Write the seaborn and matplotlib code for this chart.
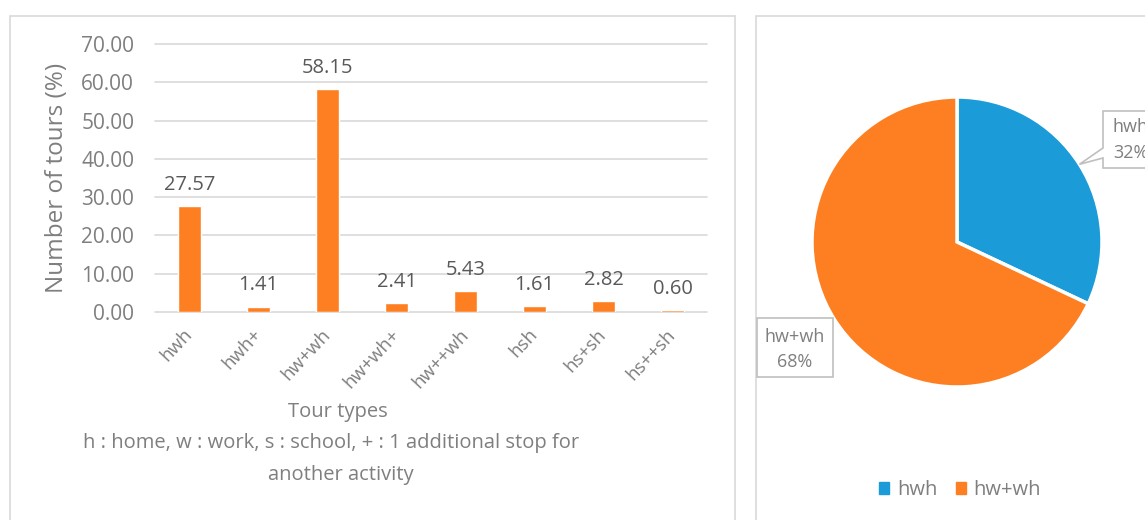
import matplotlib
matplotlib.use('Agg')
import matplotlib.pyplot as plt
import seaborn as sns
import numpy as np
from matplotlib.patches import Rectangle, Polygon

# ---- data ----
categories = ['hwh', 'hwh+', 'hw+wh', 'hw+wh+', 'hw++wh', 'hsh', 'hs+sh', 'hs++sh']
values = [27.57, 1.41, 58.15, 2.41, 5.43, 1.61, 2.82, 0.60]
yticks = [0, 10, 20, 30, 40, 50, 60, 70]
pie_labels = ['hwh', 'hw+wh']
pie_values = [32, 68]

W, H = 1145, 520
ORANGE = '#FE7F22'
BLUE = '#1B9BD7'
GRID = '#D9D9D9'
TICK = '#7F7F7F'
LABEL = '#595959'

sns.set_theme(style='white')
plt.rcParams['font.family'] = ['Open Sans', 'DejaVu Sans']

fig = plt.figure(figsize=(W / 100, H / 100), dpi=100)
fig.patch.set_facecolor('white')


def px(l, t, w, h):
    return [l / W, 1 - (t + h) / H, w / W, h / H]


# chart frames
fig.patches.append(Rectangle((10 / W, -0.1), 725 / W, 0.1 + (H - 16) / H,
                             transform=fig.transFigure, fill=False,
                             edgecolor=GRID, lw=1.2))
fig.patches.append(Rectangle((756 / W, -0.1), 1.0, 0.1 + (H - 16) / H,
                             transform=fig.transFigure, fill=False,
                             edgecolor=GRID, lw=1.2))

# ---- bar chart ----
ax = fig.add_axes(px(155, 44, 552, 268))
sns.barplot(x=categories, y=values, color=ORANGE, saturation=1, width=0.32, ax=ax)
ax.set_ylim(0, 70)
ax.set_yticks(yticks)
ax.set_yticklabels([f'{v:.2f}' for v in yticks])
for s in ax.spines.values():
    s.set_visible(False)
ax.grid(axis='y', color=GRID, lw=1.2)
ax.set_axisbelow(True)
for gl in ax.get_ygridlines():
    gl.set_clip_on(False)
ax.tick_params(axis='y', length=0, pad=15, labelsize=15, labelcolor=TICK)
ax.tick_params(axis='x', length=0, pad=14, labelsize=13.5, labelcolor=TICK)
for lab in ax.get_xticklabels():
    lab.set_rotation(47)
    lab.set_ha('right')
    lab.set_va('center')
    lab.set_rotation_mode('anchor')
ax.set_xlabel('')
ax.set_ylabel('Number of tours (%)', fontsize=17.5, color=TICK)
ax.yaxis.set_label_coords(-0.155, 0.5)
ax.bar_label(ax.containers[0], fmt='%.2f', padding=8, fontsize=14.5, color=LABEL)

fig.text(338 / W, 1 - 412 / H, 'Tour types', ha='center', va='center',
         fontsize=14.5, color=TICK)
fig.text(331 / W, 1 - 443 / H, 'h : home, w : work, s : school, + : 1 additional stop for',
         ha='center', va='center', fontsize=14.5, color=TICK)
fig.text(341 / W, 1 - 475 / H, 'another activity', ha='center', va='center',
         fontsize=14.5, color=TICK)

# ---- pie chart ----
R = 145
cx, cy = 957, 242
pax = fig.add_axes(px(cx - R, cy - R, 2 * R, 2 * R))
wedges, _ = pax.pie(pie_values, colors=[BLUE, ORANGE], startangle=90,
                    counterclock=False,
                    wedgeprops=dict(edgecolor='white', linewidth=2.5))
for w in wedges:
    w.set_clip_on(False)
pax.set_xlim(-1, 1)
pax.set_ylim(-1, 1)
pax.set_aspect('equal')
pax.axis('off')

# callout for hwh (tip on wedge edge at its mid angle)
w0 = wedges[0]
mid = np.deg2rad((w0.theta1 + w0.theta2) / 2)
tipx = cx + R * np.cos(mid)
tipy = (H - cy) + R * np.sin(mid)
bl, bt, bb = 1103, H - 111, H - 168
poly = Polygon([(bl, bt), (bl + 100, bt), (bl + 100, bb), (bl, bb),
                (bl, H - 158), (tipx, tipy), (bl, H - 148)],
               closed=True, transform=None, facecolor='white',
               edgecolor='#BFBFBF', lw=1.2)
fig.patches.append(poly)
fig.text(1113 / W, 1 - 127 / H, 'hwh', ha='left', va='center', fontsize=13, color=TICK)
fig.text(1113 / W, 1 - 153 / H, '32%', ha='left', va='center', fontsize=13, color=TICK)

# label box for hw+wh
fig.patches.append(Rectangle((757, H - 377), 76, 59, transform=None,
                             facecolor='white', edgecolor='#BFBFBF', lw=1.2))
fig.text(795 / W, 1 - 337 / H, 'hw+wh', ha='center', va='center', fontsize=13, color=TICK)
fig.text(795 / W, 1 - 362 / H, '68%', ha='center', va='center', fontsize=13, color=TICK)

# legend
handles = [Rectangle((0, 0), 1, 1, color=c) for c in [BLUE, ORANGE]]
fig.legend(handles, pie_labels, loc='center', bbox_to_anchor=(960 / W, 1 - 490 / H),
           ncol=2, frameon=False, fontsize=14.5, labelcolor=TICK,
           handlelength=0.5, handleheight=0.5, handletextpad=0.4, columnspacing=0.9)

fig.savefig('out.png', dpi=100)
